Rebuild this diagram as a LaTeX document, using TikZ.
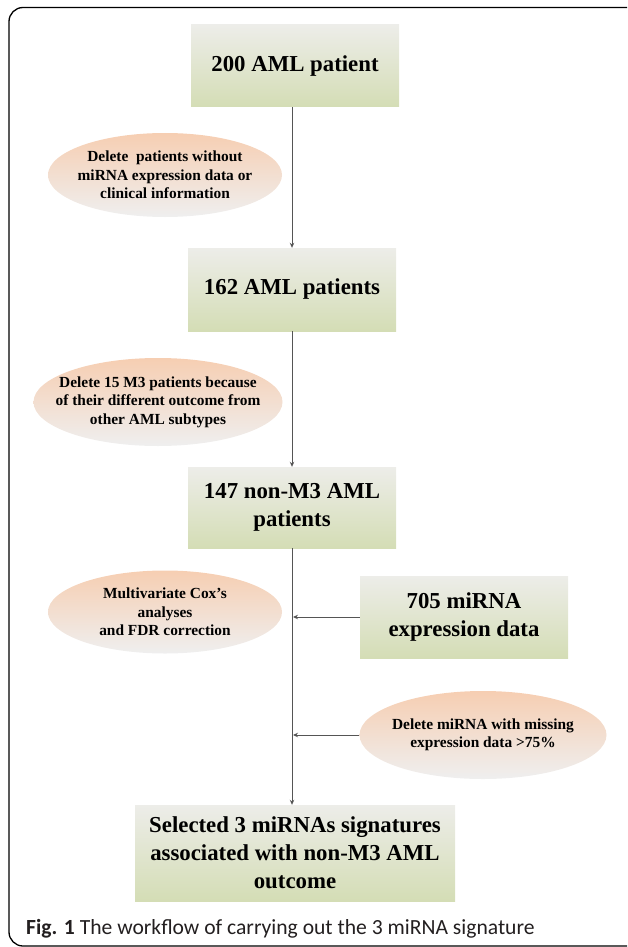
\documentclass[tikz,border=0pt]{standalone}
\usepackage{fontspec}
\setmainfont{Liberation Serif}
\newfontfamily\capfont{Carlito}
\usetikzlibrary{shapes.geometric,arrows.meta}
\definecolor{boxtop}{HTML}{EDEDE9}
\definecolor{boxbot}{HTML}{D4DDB5}
\definecolor{elltop}{HTML}{F6CEB2}
\definecolor{ellbot}{HTML}{EFEFEF}
\definecolor{linec}{HTML}{555555}
\definecolor{capc}{HTML}{231F20}
\begin{document}
\begin{tikzpicture}[x=1pt,y=-1pt,
  boxnode/.style={rectangle, top color=boxtop, bottom color=boxbot, draw=none, inner sep=0pt, align=center, font=\fontsize{22.8}{28}\selectfont\bfseries},
  ellnode/.style={ellipse, top color=elltop, bottom color=ellbot, draw=none, inner sep=0pt},
  elltext/.style={align=center, font=\fontsize{15.4}{18.5}\selectfont\bfseries, inner sep=0pt},
  conn/.style={draw=linec, line width=0.9pt, -{Stealth[length=5pt,width=4.5pt]}},
]
\useasboundingbox (0,0) rectangle (627,947);
\begin{scope}
  \clip (0,0) rectangle (627,947);
  \draw[line width=1.3pt, rounded corners=14pt] (9,7.5) rectangle (700,946);
\end{scope}

% boxes
\node[boxnode, minimum width=208pt, minimum height=82pt] (b1) at (295,66) {200 AML patient};
\node[boxnode, minimum width=208pt, minimum height=83pt] (b2) at (292,289.5) {162 AML patients};
\node[boxnode, minimum width=208pt, minimum height=81pt] (b3) at (292,507.5) {147 non-M3 AML\\patients};
\node[boxnode, minimum width=208pt, minimum height=82pt] (b705) at (464,617) {705 miRNA\\expression data};
\node[boxnode, minimum width=320pt, minimum height=96pt] (b4) at (295,853) {Selected 3 miRNAs signatures\\associated with non-M3 AML\\outcome};

% ellipses
\node[ellnode, minimum width=234pt, minimum height=84pt] (e1) at (165,175) {};
\node[elltext] (t1) at (e1.center) {Delete\ \ patients without\\miRNA expression data or\\clinical information};
\node[ellnode, minimum width=249pt, minimum height=88pt] (e2) at (158,402) {};
\node[elltext] (t2) at (e2.center) {Delete 15 M3 patients because\\of their different outcome from\\other AML subtypes};
\node[ellnode, minimum width=234pt, minimum height=83pt] (e3) at (165,612) {};
\node[elltext] (t3) at (e3.center) {Multivariate Cox’s\\analyses\\and FDR correction};
\node[ellnode, minimum width=247pt, minimum height=88pt] (e4) at (483,735) {};
\node[elltext] (t4) at (e4.center) {Delete miRNA with missing\\expression data >75\%};

% connectors
\draw[conn] (b1.south -| b2.north) -- (b2.north);
\draw[conn] (b2.south) -- (b3.north);
\draw[conn] (b3.south) -- (b3.south |- b4.north);
\coordinate (j1) at ([xshift=1pt]b3.south |- b705.west);
\coordinate (j2) at ([xshift=1pt]b3.south |- e4.west);
\draw[conn] (b705.west) -- (j1);
\draw[conn] (e4.west) -- (j2);

% caption
\node[anchor=base west, inner sep=0pt, text=capc, font=\capfont\fontsize{21.6}{26}\selectfont] (cap) at (26,934) {\textbf{Fig. 1} The workflow of carrying out the 3 miRNA signature};
\end{tikzpicture}
\end{document}
